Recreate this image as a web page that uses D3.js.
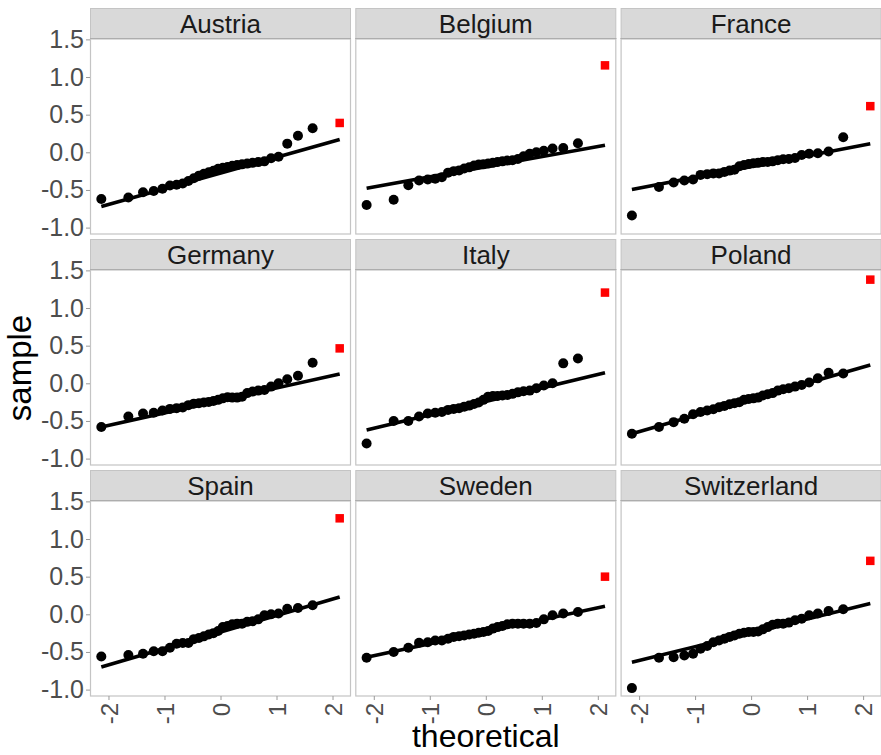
<!DOCTYPE html>
<html>
<head>
<meta charset="utf-8">
<script src="https://cdn.jsdelivr.net/npm/d3@7"></script>
<style>
html,body{margin:0;padding:0;background:#fff;}
svg text{font-family:"Liberation Sans",Arial,Helvetica,sans-serif;}
</style>
</head>
<body>
<svg id="chart" width="881" height="755"></svg>
<script>
// ---- data ----
const countries = ["Austria","Belgium","France","Germany","Italy","Poland","Spain","Sweden","Switzerland"];

// theoretical normal quantiles for n = 30
const theoretical = [-2.128,-1.645,-1.383,-1.192,-1.036,-0.903,-0.784,-0.674,-0.573,-0.477,-0.385,-0.297,-0.210,-0.126,-0.042,
                      0.042, 0.126, 0.210, 0.297, 0.385, 0.477, 0.573, 0.674, 0.784, 0.903, 1.036, 1.192, 1.383, 1.645, 2.128];

// sorted sample values (last value = outlier, red square)
const austria     = [-0.62,-0.60,-0.53,-0.515,-0.485,-0.44,-0.43,-0.415,-0.38,-0.345,-0.31,-0.285,-0.265,-0.245,-0.22,-0.205,-0.195,-0.18,-0.17,-0.16,-0.15,-0.14,-0.13,-0.12,-0.08,-0.06,0.115,0.22,0.32,0.39];
const belgium     = [-0.70,-0.63,-0.437,-0.375,-0.36,-0.35,-0.33,-0.27,-0.25,-0.24,-0.215,-0.20,-0.175,-0.163,-0.16,-0.15,-0.14,-0.128,-0.12,-0.11,-0.105,-0.088,-0.053,-0.018,0.0,0.02,0.05,0.057,0.12,1.155];
const france      = [-0.84,-0.46,-0.40,-0.375,-0.36,-0.30,-0.29,-0.28,-0.28,-0.26,-0.243,-0.23,-0.185,-0.168,-0.155,-0.145,-0.14,-0.13,-0.128,-0.12,-0.105,-0.093,-0.088,-0.075,-0.035,-0.02,-0.013,0.01,0.20,0.613];
const germany     = [-0.58,-0.44,-0.40,-0.39,-0.36,-0.34,-0.33,-0.32,-0.29,-0.27,-0.265,-0.256,-0.247,-0.234,-0.22,-0.20,-0.185,-0.19,-0.19,-0.177,-0.13,-0.11,-0.097,-0.088,-0.044,0.0,0.053,0.10,0.274,0.464];
const italy       = [-0.80,-0.50,-0.50,-0.44,-0.40,-0.39,-0.38,-0.353,-0.34,-0.33,-0.31,-0.296,-0.274,-0.256,-0.22,-0.177,-0.168,-0.168,-0.163,-0.155,-0.14,-0.12,-0.106,-0.097,-0.066,-0.03,0.0,0.265,0.33,1.205];
const poland      = [-0.67,-0.58,-0.516,-0.47,-0.41,-0.38,-0.36,-0.344,-0.318,-0.30,-0.278,-0.265,-0.25,-0.22,-0.207,-0.20,-0.19,-0.163,-0.146,-0.13,-0.097,-0.08,-0.066,-0.044,-0.022,0.01,0.066,0.14,0.13,1.377];
const spain       = [-0.56,-0.54,-0.524,-0.49,-0.49,-0.444,-0.39,-0.38,-0.38,-0.33,-0.315,-0.293,-0.267,-0.25,-0.222,-0.17,-0.155,-0.133,-0.124,-0.124,-0.10,-0.093,-0.067,-0.013,0.0,0.01,0.075,0.084,0.12,1.275];
const sweden      = [-0.578,-0.50,-0.444,-0.378,-0.37,-0.347,-0.347,-0.324,-0.30,-0.29,-0.28,-0.267,-0.258,-0.244,-0.235,-0.222,-0.19,-0.17,-0.155,-0.133,-0.124,-0.124,-0.124,-0.124,-0.115,-0.067,-0.013,0.01,0.03,0.50];
const switzerland = [-0.98,-0.578,-0.57,-0.547,-0.524,-0.458,-0.42,-0.37,-0.347,-0.324,-0.30,-0.28,-0.258,-0.244,-0.235,-0.235,-0.227,-0.20,-0.17,-0.138,-0.124,-0.124,-0.11,-0.08,-0.058,-0.013,0.01,0.044,0.067,0.71];
const samples = [austria,belgium,france,germany,italy,poland,spain,sweden,switzerland];

// reference line values at the ends of the theoretical range
const lineLow  = [-0.72,-0.476,-0.494,-0.58,-0.62,-0.67,-0.70,-0.57,-0.636];
const lineHigh = [ 0.17, 0.093, 0.115, 0.124, 0.14, 0.243, 0.23, 0.107, 0.142];

const xTicks = [-2,-1,0,1,2];
const yTicks = [-1.0,-0.5,0.0,0.5,1.0,1.5];

// ---- layout ----
const svg = d3.select("#chart");
const left = 90, panelW = 261, colGap = 4.3;
const top0 = 8, stripH = 31, panelH = 195, rowPitch = 231;

const x = d3.scaleLinear().domain([-2.33, 2.33]).range([0, panelW]);
const y = d3.scaleLinear().domain([-1.085, 1.505]).range([panelH, 0]);

const hyphen = f => d => f(d).replace("\u2212", "-");

countries.forEach((c, i) => {
  const col = i % 3, row = Math.floor(i / 3);
  const px = left + col * (panelW + colGap);
  const sy = top0 + row * rowPitch;
  const py = sy + stripH;

  // strip
  const s = svg.append("g").attr("transform", `translate(${px},${sy})`);
  s.append("rect").attr("x",0.5).attr("y",0.5).attr("width",panelW-1).attr("height",stripH-1)
    .attr("fill","#d9d9d9").attr("stroke","#c4c4c4").attr("stroke-width",1);
  s.append("line").attr("x1",0).attr("x2",panelW).attr("y1",stripH-0.5).attr("y2",stripH-0.5)
    .attr("stroke","#8c8c8c").attr("stroke-width",1.2);
  s.append("text").attr("x",panelW/2).attr("y",stripH/2).attr("dy","0.37em")
    .attr("text-anchor","middle").attr("font-size",26).attr("fill","#1a1a1a").text(c);

  const g = svg.append("g").attr("transform", `translate(${px},${py})`);
  g.append("rect").attr("x",0.5).attr("y",0).attr("width",panelW-1).attr("height",panelH)
    .attr("fill","#fff").attr("stroke","#c4c4c4").attr("stroke-width",1.2);

  // axes
  if (col === 0) {
    const ya = d3.axisLeft(y).tickValues(yTicks).tickFormat(hyphen(d3.format(".1f"))).tickSize(4).tickPadding(2);
    const ag = g.append("g").call(ya);
    ag.select(".domain").remove();
    ag.selectAll("line").attr("stroke","#9a9a9a");
    ag.selectAll("text").attr("font-size",25).attr("fill","#4d4d4d")
      .attr("font-family","Liberation Sans, Arial, sans-serif");
  }
  if (row === 2) {
    const xa = d3.axisBottom(x).tickValues(xTicks).tickFormat(hyphen(d3.format("d"))).tickSize(4);
    const ag = g.append("g").attr("transform",`translate(0,${panelH})`).call(xa);
    ag.select(".domain").remove();
    ag.selectAll("line").attr("stroke","#9a9a9a");
    ag.selectAll("text").attr("font-size",24).attr("fill","#4d4d4d")
      .attr("font-family","Liberation Sans, Arial, sans-serif")
      .attr("text-anchor","end").attr("transform","rotate(-90)")
      .attr("x",-7).attr("y",0).attr("dy","0.36em");
  }

  const data = samples[i];
  const n = data.length;
  // qq line
  g.append("line")
    .attr("x1", x(theoretical[0])).attr("y1", y(lineLow[i]))
    .attr("x2", x(theoretical[n-1])).attr("y2", y(lineHigh[i]))
    .attr("stroke","#000").attr("stroke-width",3.6);
  // points (all but the maximum)
  g.selectAll("circle").data(data.slice(0, n-1)).enter().append("circle")
    .attr("cx",(d,k)=>x(theoretical[k])).attr("cy",d=>y(d)).attr("r",5).attr("fill","#000");
  // outlier
  const sq = 8.5;
  g.append("rect").attr("x", x(theoretical[n-1]) - sq/2).attr("y", y(data[n-1]) - sq/2)
    .attr("width",sq).attr("height",sq).attr("fill","#ff0000");
});

// axis titles
svg.append("text").attr("x", left + (3*panelW + 2*colGap)/2).attr("y", 747)
  .attr("text-anchor","middle").attr("font-size",32).attr("fill","#000").text("theoretical");
svg.append("text").attr("transform","translate(31,368) rotate(-90)")
  .attr("text-anchor","middle").attr("font-size",33).attr("fill","#000").text("sample");
</script>
</body>
</html>
